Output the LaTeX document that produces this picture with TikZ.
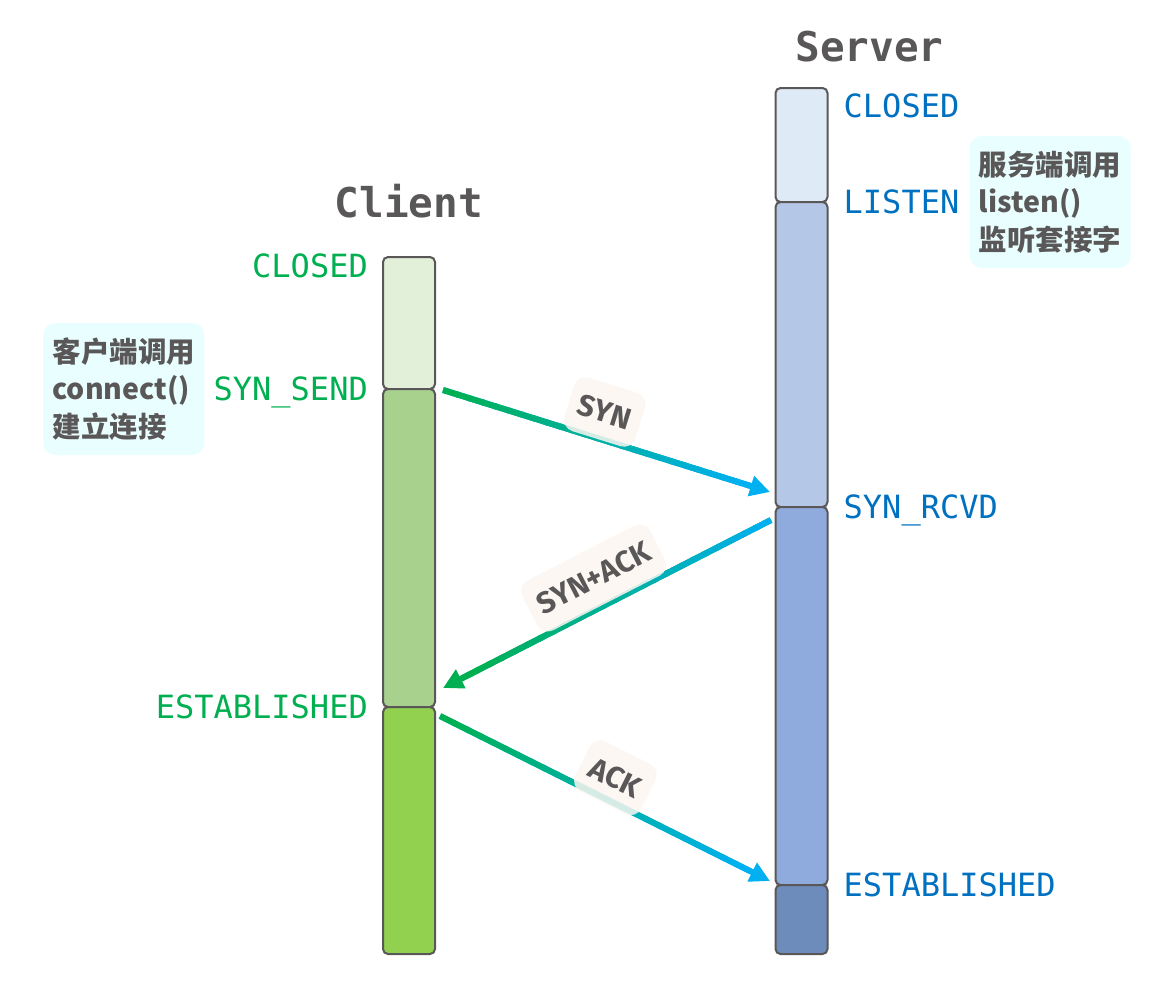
\documentclass[tikz,border=0pt]{standalone}
\usepackage{fontspec}
\usetikzlibrary{positioning,calc,arrows.meta}
\newfontfamily\monofont{DejaVu Sans Mono}
\newfontfamily\cjk{Noto Sans CJK SC}
\newfontfamily\lblfont{Fira Sans}
\definecolor{inkgray}{HTML}{595757}
\definecolor{stategreen}{HTML}{00B050}
\definecolor{stateblue}{HTML}{0070C0}
\definecolor{cgreenA}{HTML}{E2F0D9}
\definecolor{cgreenB}{HTML}{A9D18E}
\definecolor{cgreenC}{HTML}{92D050}
\definecolor{sblueA}{HTML}{DEEBF7}
\definecolor{sblueB}{HTML}{B4C7E7}
\definecolor{sblueC}{HTML}{8FAADC}
\definecolor{sblueD}{HTML}{6D8BBB}
\definecolor{notecyan}{HTML}{E9FEFE}
\definecolor{tagbeige}{HTML}{FBF6F1}
\definecolor{flowgreen}{HTML}{00B050}
\definecolor{flowcyan}{HTML}{00B0F0}

\begin{document}
\begin{tikzpicture}[x=1pt,y=-1pt,
  bar/.style={draw=inkgray,line width=2pt,rounded corners=5pt,minimum width=52pt,inner sep=0pt,outer sep=0pt,anchor=north},
  headtext/.style={font=\monofont\bfseries\fontsize{41}{41}\selectfont,text=inkgray,inner sep=0pt,text height=30pt,text depth=0pt},
  cstate/.style={font=\monofont\fontsize{32}{32}\selectfont,text=stategreen,inner sep=0pt,text height=23pt,text depth=0pt},
  sstate/.style={cstate,text=stateblue},
  note/.style={fill=notecyan,rounded corners=12pt,minimum width=161pt,minimum height=132pt,align=left,inner sep=8pt,
    font=\cjk\bfseries\fontsize{28.5}{37.5}\selectfont,text=inkgray},
  flow/.style={line width=6pt},
  flowlabel/.style={fill=tagbeige,fill opacity=0.85,text opacity=1,rounded corners=12pt,minimum height=56pt,inner xsep=10pt,
    font=\lblfont\bfseries\fontsize{30}{30}\selectfont,text=inkgray}]
  \useasboundingbox (0,0) rectangle (1172,993);

  % client column
  \node[bar,fill=cgreenA,minimum height=132pt]	(cclosed)	at (409,257)		{};
  \node[bar,fill=cgreenB,minimum height=318pt]	(csend)		at (cclosed.south)	{};
  \node[bar,fill=cgreenC,minimum height=247pt]	(cest)		at (csend.south)	{};

  % server column
  \node[bar,fill=sblueA,minimum height=114pt]	(sclosed)	at (801.5,88)		{};
  \node[bar,fill=sblueB,minimum height=305pt]	(slisten)	at (sclosed.south)	{};
  \node[bar,fill=sblueC,minimum height=378pt]	(srcvd)		at (slisten.south)	{};
  \node[bar,fill=sblueD,minimum height=69pt]	(sest)		at (srcvd.south)	{};

  \node[headtext,above=39pt of cclosed.north]				(ctitle)	{Client};
  \node[headtext,above=26pt of sclosed.north,xshift=68pt]	(stitle)	{Server};

  \node[cstate,left=15pt of cclosed.north west,yshift=-9pt]	(lcclosed)	{CLOSED};
  \node[cstate,left=15pt of csend.north west]				(lcsend)	{SYN\_SEND};
  \node[cstate,left=15pt of cest.north west]				(lcest)		{ESTABLISHED};
  \node[sstate,right=16pt of sclosed.north east,yshift=-18pt]	(lsclosed)	{CLOSED};
  \node[sstate,right=16pt of slisten.north east]			(lslisten)	{LISTEN};
  \node[sstate,right=16pt of srcvd.north east]				(lsrcvd)	{SYN\_RCVD};
  \node[sstate,right=16pt of sest.north east]				(lsest)		{ESTABLISHED};

  \node[note,left=9pt of lcsend]		(cnote)	{客户端调用\\connect()\\建立连接};
  \node[note,right=10pt of lslisten]	(snote)	{服务端调用\\listen()\\监听套接字};

  % handshake
  \coordinate (synS) at (443,390);	\coordinate (synE) at (770,492);
  \coordinate (sakS) at (771,520);	\coordinate (sakE) at (443,688);
  \coordinate (ackS) at (440,716);	\coordinate (ackE) at (770,881);

  \foreach \from/\to/\ca/\cb in {synS/synE/flowgreen/flowcyan,sakS/sakE/flowcyan/flowgreen,ackS/ackE/flowgreen/flowcyan}{
    \draw[flow,color=\cb,-{Triangle[length=20pt,width=20pt]}] (\from) -- (\to);
    \foreach \i [evaluate=\i as \ps using \i*0.93/24, evaluate=\i as \pe using (\i+1.3)*0.93/24, evaluate=\i as \pc using \i*100/23] in {0,...,23}
      \draw[flow,color=\cb!\pc!\ca] ($(\from)!\ps!(\to)$) -- ($(\from)!\pe!(\to)$);
  }

  \path (synS) -- (synE) node[flowlabel,pos=0.47,sloped,above=-1pt]	(synlbl)	{SYN};
  \path (sakE) -- (sakS) node[flowlabel,midway,sloped,above=1pt]	(saklbl)	{SYN+ACK};
  \path (ackS) -- (ackE) node[flowlabel,midway,sloped,above=-5pt]	(acklbl)	{ACK};
\end{tikzpicture}
\end{document}
